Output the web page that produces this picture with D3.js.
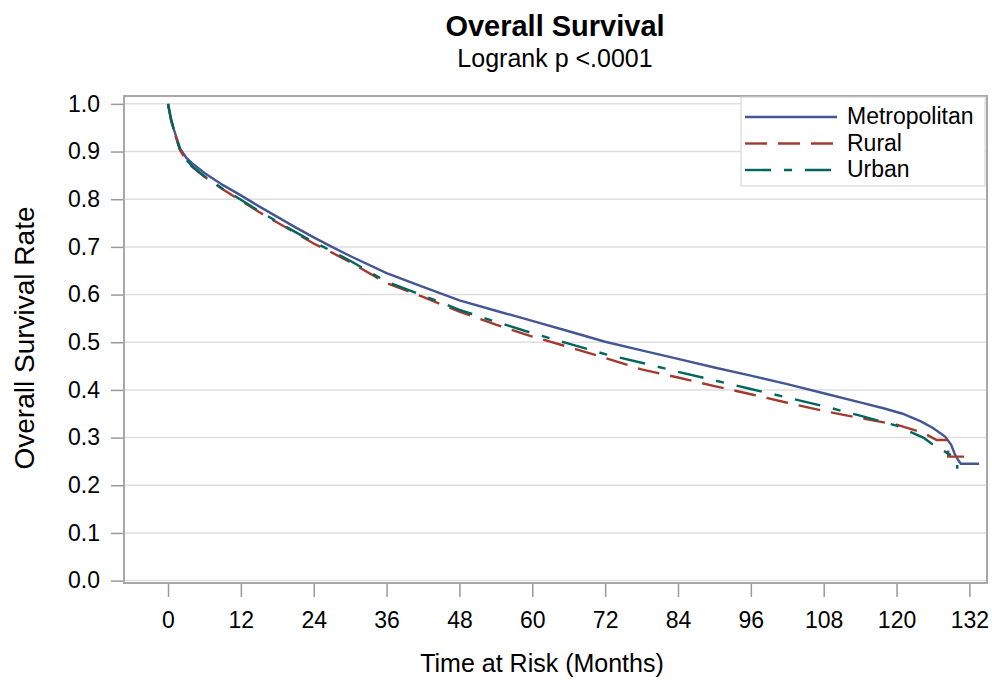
<!DOCTYPE html>
<html>
<head>
<meta charset="utf-8">
<script src="https://cdn.jsdelivr.net/npm/d3@7"></script>
<style>
  body { margin: 0; background: #fff; }
  text { font-family: "Liberation Sans", Arial, sans-serif; fill: #000; }
</style>
</head>
<body>
<script>
// values
const groups = ['Metropolitan', 'Rural', 'Urban'];

const metroMonths = [0, 0.5, 1, 2, 3, 4, 6, 9, 12, 15, 18, 21, 24, 27, 30, 36, 42, 48, 54, 60, 66, 72, 78, 84, 90, 96, 102, 108, 114, 118, 121, 124, 126, 128, 129, 129.6, 130.2, 130.6, 133.6];
const metroSurv = [1.0, 0.968, 0.945, 0.906, 0.887, 0.875, 0.855, 0.830, 0.808, 0.785, 0.763, 0.741, 0.720, 0.700, 0.681, 0.645, 0.616, 0.588, 0.566, 0.545, 0.523, 0.501, 0.483, 0.465, 0.447, 0.430, 0.412, 0.393, 0.374, 0.361, 0.350, 0.334, 0.320, 0.302, 0.285, 0.265, 0.252, 0.245, 0.245];

const ruralMonths = [0, 0.5, 1, 2, 3, 4, 6, 9, 12, 15, 18, 21, 24, 27, 30, 36, 42, 48, 54, 60, 66, 72, 78, 84, 90, 96, 102, 108, 114, 120, 124.4, 126.6, 128.5, 128.5, 131.2];
const ruralSurv = [1.0, 0.966, 0.942, 0.902, 0.882, 0.868, 0.847, 0.821, 0.797, 0.773, 0.751, 0.729, 0.707, 0.688, 0.668, 0.624, 0.595, 0.564, 0.537, 0.512, 0.490, 0.467, 0.443, 0.426, 0.408, 0.391, 0.373, 0.356, 0.341, 0.327, 0.310, 0.295, 0.295, 0.260, 0.260];

const urbanMonths = [0, 0.5, 1, 2, 3, 4, 6, 9, 12, 15, 18, 21, 24, 27, 30, 36, 42, 48, 54, 60, 66, 72, 78, 84, 90, 96, 102, 108, 114, 120, 124.4, 125.8, 128.3, 129.4, 130, 130, 130.2];
const urbanSurv = [1.0, 0.967, 0.943, 0.903, 0.883, 0.869, 0.848, 0.822, 0.799, 0.775, 0.753, 0.731, 0.710, 0.691, 0.671, 0.627, 0.598, 0.568, 0.543, 0.519, 0.497, 0.475, 0.457, 0.438, 0.420, 0.402, 0.384, 0.366, 0.346, 0.325, 0.300, 0.287, 0.268, 0.260, 0.252, 0.237, 0.237];

const xTicks = [0, 12, 24, 36, 48, 60, 72, 84, 96, 108, 120, 132];
const yTicks = [0, 0.1, 0.2, 0.3, 0.4, 0.5, 0.6, 0.7, 0.8, 0.9, 1.0];

const colors = ['#445694', '#A23A2E', '#01665E'];
const dashes = [null, '22,11', '26,13,8,13'];

const width = 992, height = 680;
const plotLeft = 124, plotRight = 987, plotTop = 96, plotBottom = 583;

const svg = d3.select(document.body).append('svg')
  .attr('width', width)
  .attr('height', height);

const x = d3.scaleLinear().domain([-7.25, 134.9]).range([plotLeft, plotRight]);
const y = d3.scaleLinear().domain([-0.005, 1.0165]).range([plotBottom, plotTop]);

// grid lines
svg.append('g')
  .selectAll('line')
  .data(yTicks)
  .join('line')
    .attr('x1', plotLeft)
    .attr('x2', plotRight)
    .attr('y1', d => y(d))
    .attr('y2', d => y(d))
    .attr('stroke', '#dedede')
    .attr('stroke-width', 1.5);

// axes
const xAxis = svg.append('g')
  .attr('transform', `translate(0,${plotBottom})`)
  .call(d3.axisBottom(x).tickValues(xTicks).tickSize(14).tickPadding(15));

const yAxis = svg.append('g')
  .attr('transform', `translate(${plotLeft},0)`)
  .call(d3.axisLeft(y).tickValues(yTicks).tickFormat(d3.format('.1f')).tickSize(13).tickPadding(11));

for (let ax of [xAxis, yAxis]) {
  ax.select('.domain').remove();
  ax.selectAll('.tick line').attr('stroke', '#9a9a9a').attr('stroke-width', 1.5);
  ax.selectAll('.tick text')
    .style('font-family', '"Liberation Sans", Arial, sans-serif')
    .style('font-size', '23px')
    .attr('fill', '#000');
}

// survival curves
let series = [
  metroMonths.map((t, i) => ({ t: t, s: metroSurv[i] })),
  ruralMonths.map((t, i) => ({ t: t, s: ruralSurv[i] })),
  urbanMonths.map((t, i) => ({ t: t, s: urbanSurv[i] }))
];

let line = d3.line()
  .x(d => x(d.t))
  .y(d => y(d.s));

svg.append('g')
  .attr('fill', 'none')
  .selectAll('path')
  .data(series)
  .join('path')
    .attr('d', line)
    .attr('stroke', (d, i) => colors[i])
    .attr('stroke-width', 2.4)
    .attr('stroke-dasharray', (d, i) => dashes[i]);

// frame
svg.append('rect')
  .attr('x', plotLeft)
  .attr('y', plotTop)
  .attr('width', plotRight - plotLeft)
  .attr('height', plotBottom - plotTop)
  .attr('fill', 'none')
  .attr('stroke', '#a8a8a8')
  .attr('stroke-width', 2);

// legend
const legend = svg.append('g');
legend.append('rect')
  .attr('x', 741)
  .attr('y', 97)
  .attr('width', 244)
  .attr('height', 89)
  .attr('fill', '#fff')
  .attr('stroke', '#d0d0d0')
  .attr('stroke-width', 1);

const legendItem = legend.selectAll('g.item')
  .data(groups)
  .join('g')
    .attr('class', 'item')
    .attr('transform', (d, i) => `translate(0,${117 + i * 26.5})`);

legendItem.append('line')
  .attr('x1', 745)
  .attr('x2', 837)
  .attr('stroke', (d, i) => colors[i])
  .attr('stroke-width', 2.4)
  .attr('stroke-dasharray', (d, i) => dashes[i]);

legendItem.append('text')
  .attr('x', 847)
  .attr('y', 7)
  .style('font-size', '23px')
  .text(d => d);

// titles
svg.append('text')
  .attr('x', 555)
  .attr('y', 36)
  .attr('text-anchor', 'middle')
  .style('font-size', '29px')
  .style('font-weight', 'bold')
  .text('Overall Survival');

svg.append('text')
  .attr('x', 555)
  .attr('y', 67)
  .attr('text-anchor', 'middle')
  .style('font-size', '25px')
  .text('Logrank p <.0001');

svg.append('text')
  .attr('x', 542)
  .attr('y', 672)
  .attr('text-anchor', 'middle')
  .style('font-size', '25px')
  .text('Time at Risk (Months)');

svg.append('text')
  .attr('transform', 'translate(34,338) rotate(-90)')
  .attr('text-anchor', 'middle')
  .style('font-size', '28px')
  .text('Overall Survival Rate');
</script>
</body>
</html>
